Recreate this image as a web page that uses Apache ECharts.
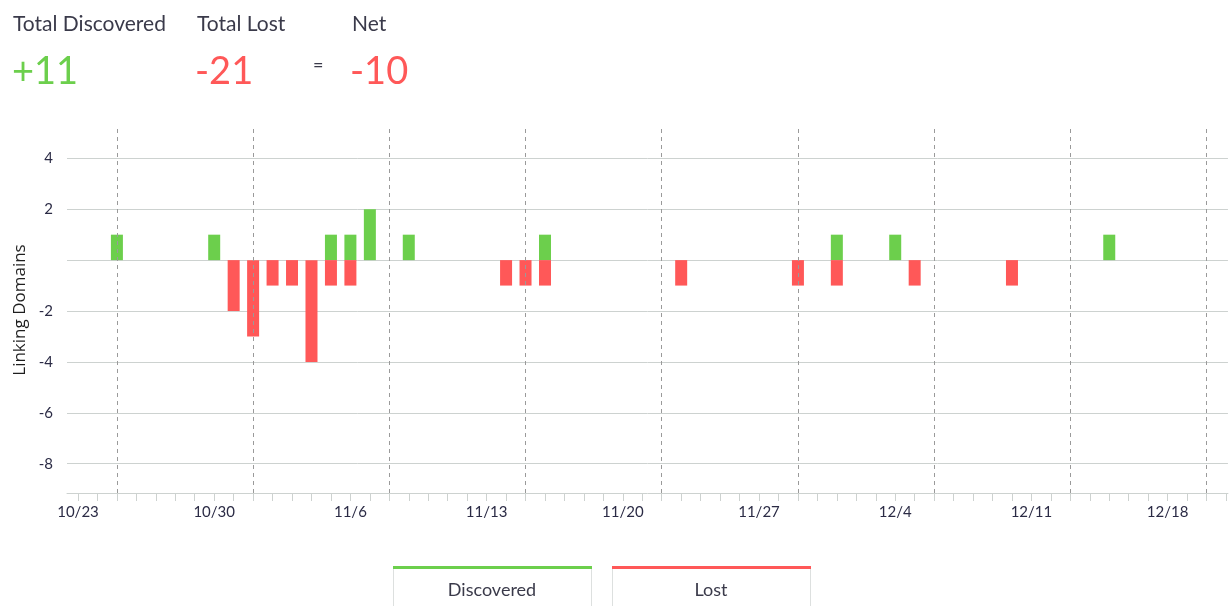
<!DOCTYPE html>
<html>
<head>
<meta charset="utf-8">
<script src="https://cdn.jsdelivr.net/npm/echarts@6/dist/echarts.min.js"></script>
<style>
html,body{margin:0;padding:0;background:#fff;}
#chart{width:1229px;height:606px;}
</style>
</head>
<body>
<div id="chart"></div>
<script>
// ---- data ----
const discoveredDates = ['10/25','10/30','11/5','11/6','11/7','11/9','11/16','12/1','12/4','12/15'];
const discoveredValues = [1,1,1,1,2,1,1,1,1,1];
const lostDates = ['10/31','11/1','11/2','11/3','11/4','11/5','11/6','11/14','11/15','11/16','11/23','11/29','12/1','12/5','12/10'];
const lostValues = [-2,-3,-1,-1,-4,-1,-1,-1,-1,-1,-1,-1,-1,-1,-1];
const xTickLabels = ['10/23','10/30','11/6','11/13','11/20','11/27','12/4','12/11','12/18'];
const weekLineDates = ['10/25','11/1','11/8','11/15','11/22','11/29','12/6','12/13','12/20'];
const yTickValues = [-8,-6,-4,-2,0,2,4];
const totalDiscovered = '+11';
const totalLost = '-21';
const netTotal = '-10';

const GREEN = '#6ccf4c';
const RED = '#ff5858';
const FONT = 'Lato, "Noto Sans", sans-serif';

// days since 10/23 (2017)
const ORIGIN = Date.UTC(2017, 9, 23);
function dayIndex(s) {
  const [m, d] = s.split('/').map(Number);
  return Math.round((Date.UTC(2017, m - 1, d) - ORIGIN) / 86400000);
}
function dayLabel(i) {
  const dt = new Date(ORIGIN + i * 86400000);
  return (dt.getUTCMonth() + 1) + '/' + dt.getUTCDate();
}
const labelDays = xTickLabels.map(dayIndex);

const chart = echarts.init(document.getElementById('chart'), null, {renderer: 'canvas'});

const option = {
  animation: false,
  backgroundColor: '#fff',
  grid: {left: 67, right: 0, top: 126, bottom: 113, containLabel: false},
  xAxis: {
    type: 'value',
    min: -0.565,
    max: 59.1,
    splitNumber: 60,
    minInterval: 1,
    maxInterval: 1,
    axisLine: {show: true, onZero: false, lineStyle: {color: '#cdd2d0', width: 1}},
    axisTick: {show: true, length: 8, lineStyle: {color: '#cdd2d0'}},
    splitLine: {show: false},
    axisLabel: {
      margin: 12,
      color: '#2b2b45',
      fontFamily: FONT,
      fontSize: 15,
      showMinLabel: false,
      showMaxLabel: false,
      formatter: function (v) {
        const r = Math.round(v);
        if (Math.abs(v - r) > 1e-6) return '';
        return labelDays.indexOf(r) >= 0 ? dayLabel(r) : '';
      }
    }
  },
  yAxis: {
    type: 'value',
    min: -9.15,
    max: 5.27,
    splitNumber: 7,
    minInterval: 2,
    maxInterval: 2,
    axisLine: {show: false},
    axisTick: {show: true, length: 7, lineStyle: {color: '#cdd2d0'}, customValues: yTickValues},
    axisLabel: {
      margin: 14,
      color: '#2b2b45',
      fontFamily: FONT,
      fontSize: 15,
      customValues: yTickValues,
      formatter: function (v) { return v === 0 ? '' : String(v); }
    },
    splitLine: {show: true, showMaxLine: true, showMinLine: true, lineStyle: {color: '#cdd2d0', width: 1}}
  },
  series: [
    {
      type: 'line',
      name: 'weeks',
      data: [],
      z: 1,
      silent: true,
      markLine: {
        silent: true,
        symbol: ['none', 'none'],
        label: {show: false},
        lineStyle: {color: '#9a9a9a', type: [4, 4], width: 1},
        data: weekLineDates.map(d => ({xAxis: dayIndex(d)}))
      }
    },
    {
      type: 'bar',
      name: 'Discovered',
      z: 3,
      barWidth: 12,
      barGap: '-100%',
      itemStyle: {color: GREEN},
      data: discoveredDates.map((d, i) => [dayIndex(d), discoveredValues[i]])
    },
    {
      type: 'bar',
      name: 'Lost',
      z: 3,
      barWidth: 12,
      barGap: '-100%',
      itemStyle: {color: RED},
      data: lostDates.map((d, i) => [dayIndex(d), lostValues[i]])
    }
  ],
  graphic: [
    // header
    {type: 'text', left: 13, top: 14, style: {text: 'Total Discovered', font: '21px ' + FONT, fill: '#3a3a4a'}},
    {type: 'text', left: 197, top: 14, style: {text: 'Total Lost', font: '21px ' + FONT, fill: '#3a3a4a'}},
    {type: 'text', left: 352, top: 14, style: {text: 'Net', font: '21px ' + FONT, fill: '#3a3a4a'}},
    {type: 'text', left: 12, top: 53, style: {text: totalDiscovered, font: '38px ' + FONT, fill: GREEN}},
    {type: 'text', left: 195, top: 53, style: {text: totalLost, font: '38px ' + FONT, fill: RED}},
    {type: 'text', left: 313, top: 56, style: {text: '=', font: '18px ' + FONT, fill: '#3a3a4a'}},
    {type: 'text', left: 350, top: 53, style: {text: netTotal, font: '38px ' + FONT, fill: RED}},
    // y axis title
    {type: 'text', x: 20, y: 310, rotation: Math.PI / 2,
     style: {text: 'Linking Domains', font: '17px "Open Sans", sans-serif', fill: '#1e1e1e', align: 'center', verticalAlign: 'middle'}},
    // legend boxes
    {type: 'rect', shape: {x: 393.5, y: 568, width: 198, height: 60}, style: {fill: '#fff', stroke: '#dde0df', lineWidth: 1}},
    {type: 'rect', shape: {x: 393, y: 566, width: 199, height: 3}, style: {fill: GREEN}},
    {type: 'text', x: 492, y: 590, style: {text: 'Discovered', font: '18px ' + FONT, fill: '#3a3a4a', align: 'center', verticalAlign: 'middle'}},
    {type: 'rect', shape: {x: 612.5, y: 568, width: 198, height: 60}, style: {fill: '#fff', stroke: '#dde0df', lineWidth: 1}},
    {type: 'rect', shape: {x: 612, y: 566, width: 199, height: 3}, style: {fill: RED}},
    {type: 'text', x: 711, y: 590, style: {text: 'Lost', font: '18px ' + FONT, fill: '#3a3a4a', align: 'center', verticalAlign: 'middle'}}
  ]
};
chart.setOption(option);
</script>
</body>
</html>
